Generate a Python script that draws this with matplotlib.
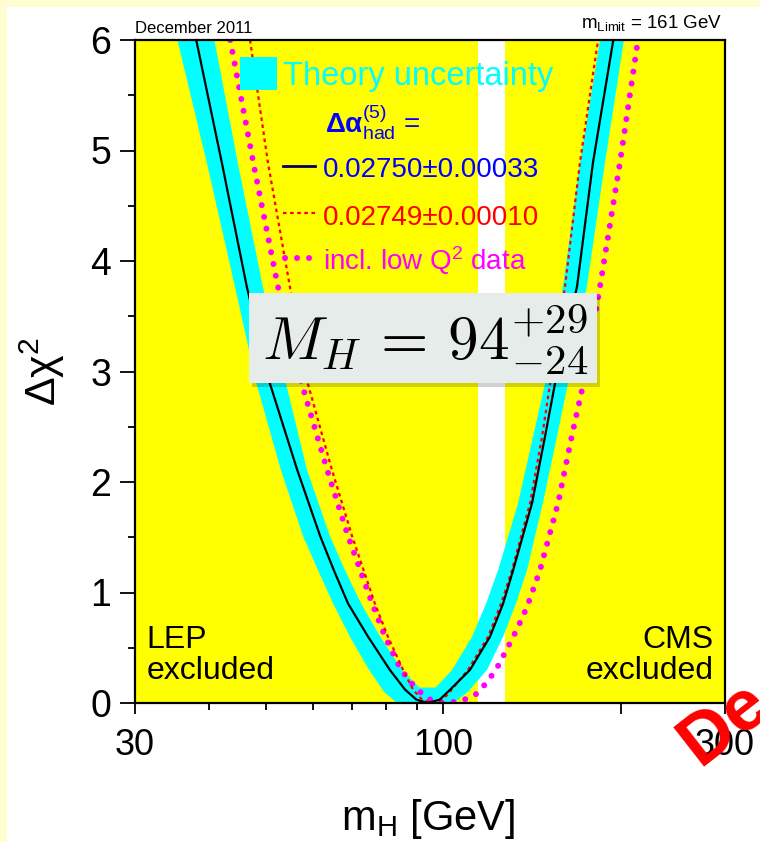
import matplotlib
matplotlib.use("Agg")
import matplotlib.pyplot as plt
from matplotlib.lines import Line2D
from matplotlib.patches import Rectangle
from matplotlib.ticker import FixedLocator, FixedFormatter, NullFormatter

# --- values ----------------------------------------------------------------
# black fit curve, Delta alpha_had = 0.02750 +- 0.00033
fit_m = [38.1, 42.1, 46.4, 50.8, 56.5, 61.8, 65.2, 68.9, 74.5, 81.1, 86.1, 90.0,
         94.0, 98.5, 102.6, 110.9, 119.9, 126.2, 131.2, 141.3, 148.6, 154.5,
         168.4, 179.2, 194.0]
fit_chi = [6.0, 4.89, 3.77, 2.89, 2.11, 1.51, 1.20, 0.90, 0.60, 0.30, 0.12, 0.03,
           0.0, 0.03, 0.12, 0.30, 0.60, 0.90, 1.20, 1.81, 2.41, 2.89,
           3.77, 4.89, 6.0]

# red dashed, Delta alpha_had = 0.02749 +- 0.00010
alt_m = [47.0, 50.4, 54.9, 58.9, 64.7, 70.0, 76.5, 80.5, 85.4, 88.8, 92.0, 95.6,
         98.5, 101.4, 110.0, 119.0, 125.2, 130.6, 140.2, 146.9, 151.6, 160.7,
         170.3, 182.8]
alt_chi = [6.0, 4.89, 3.77, 2.89, 2.11, 1.51, 0.90, 0.60, 0.30, 0.12, 0.03, 0.0,
           0.02, 0.07, 0.30, 0.60, 0.90, 1.20, 1.81, 2.41, 2.89, 3.77,
           4.89, 6.0]

# magenta dots, incl. low Q^2 data
lowq_m = [43.5, 47.6, 52.4, 57.5, 63.5, 68.9, 75.7, 79.6, 84.7, 90.2, 95.0, 100.0,
          104.5, 108.7, 113.1, 116.7, 119.9, 123.2, 128.1, 133.3, 138.5, 145.7,
          156.4, 164.9, 172.6, 184.2, 199.1, 213.6]
lowq_chi = [6.0, 4.89, 3.77, 2.89, 2.11, 1.51, 0.90, 0.60, 0.30, 0.12, 0.03, 0.0,
            0.01, 0.033, 0.072, 0.147, 0.226, 0.317, 0.489, 0.67, 0.869, 1.20,
            1.81, 2.41, 2.89, 3.77, 4.89, 6.0]

# theory uncertainty band: outer edge (left to right), inner edge (right to left)
band_outer_m = [35.4, 39.7, 44.3, 48.2, 53.0, 57.8, 61.3, 65.0, 69.4, 74.8, 79.3,
                83.4, 104.0, 110.0, 118.5, 126.2, 132.7, 138.5, 147.4, 155.7,
                162.5, 175.0, 187.8, 202.2]
band_outer_chi = [6.0, 4.89, 3.77, 2.89, 2.11, 1.51, 1.20, 0.90, 0.60, 0.30, 0.10,
                  0.0, 0.0, 0.10, 0.30, 0.60, 0.90, 1.20, 1.81, 2.41,
                  2.89, 3.77, 4.89, 6.0]
band_inner_m = [184.2, 170.3, 159.4, 148.6, 141.8, 133.8, 123.7, 118.1, 111.8,
                103.4, 97.0, 91.0, 85.1, 78.1, 72.5, 68.1, 64.2, 58.7, 54.1,
                49.4, 44.8, 40.9]
band_inner_chi = [6.0, 4.89, 3.77, 2.89, 2.41, 1.81, 1.20, 0.90, 0.60,
                  0.30, 0.14, 0.14, 0.30, 0.60, 0.90, 1.20, 1.51, 2.11, 2.89,
                  3.77, 4.89, 6.0]

# allowed window between LEP and CMS exclusions
allowed = [114.4, 127.0]

x_major = [30, 100, 200, 300]
x_major_labels = ["30", "100", "", "300"]
x_minor = [40, 50, 60, 70, 80, 90]

legend_values = ["0.02750\u00b10.00033", "0.02749\u00b10.00010"]

# --- style -----------------------------------------------------------------
plt.rcParams["font.family"] = ["Liberation Sans", "DejaVu Sans"]
plt.rcParams["mathtext.fontset"] = "custom"
plt.rcParams["mathtext.rm"] = "Liberation Sans"
plt.rcParams["mathtext.it"] = "Liberation Sans:italic"
plt.rcParams["mathtext.bf"] = "Liberation Sans:bold"

W, H = 760, 842


def fx(x):
    return x / W


def fy(y):
    return 1 - y / H


fig = plt.figure(figsize=(W / 100, H / 100), dpi=100, facecolor="#fdfdd0")
fig.patches.append(Rectangle((fx(7), 0), 1, fy(7), transform=fig.transFigure,
                             facecolor="white", edgecolor="none", zorder=-10))

ax = fig.add_axes([fx(135), fy(703), (725 - 135) / W, (703 - 40) / H])
ax.set_facecolor("#ffff00")
ax.set_xscale("log")
ax.set_xlim(30, 300)
ax.set_ylim(0, 6)

ax.axvspan(allowed[0], allowed[1], color="white", lw=0, zorder=0.5)

band_m = band_outer_m + band_inner_m
band_chi = band_outer_chi + band_inner_chi
ax.fill(band_m, band_chi, color="#00ffff", lw=0, zorder=1)

ax.plot(lowq_m, lowq_chi, color="#ff00ff", lw=4.3, linestyle=(0, (0.01, 2.0)),
        dash_capstyle="round", zorder=2)
ax.plot(alt_m, alt_chi, color="#ff0000", lw=1.6, linestyle=(0, (1.6, 1.6)),
        zorder=3)
ax.plot(fit_m, fit_chi, color="black", lw=1.6, zorder=4)

for s in ax.spines.values():
    s.set_linewidth(1.6)
    s.set_zorder(6)

ax.xaxis.set_major_locator(FixedLocator(x_major))
ax.xaxis.set_major_formatter(FixedFormatter(x_major_labels))
ax.xaxis.set_minor_locator(FixedLocator(x_minor))
ax.xaxis.set_minor_formatter(NullFormatter())
ax.yaxis.set_major_locator(FixedLocator([0, 1, 2, 3, 4, 5, 6]))
ax.yaxis.set_minor_locator(FixedLocator([0.5, 1.5, 2.5, 3.5, 4.5, 5.5]))

ax.tick_params(axis="x", which="major", direction="out", length=8, width=1.3,
               labelsize=26, pad=10, top=False)
ax.tick_params(axis="x", which="minor", direction="out", length=5, width=1.3,
               top=False)
ax.tick_params(axis="y", which="major", direction="out", length=11, width=1.3,
               labelsize=27, pad=6, right=False)
ax.tick_params(axis="y", which="minor", direction="out", length=5, width=1.3,
               right=False)

# exclusion labels
ax.text(0.02, 0.025, "LEP\nexcluded", transform=ax.transAxes, fontsize=23,
        ha="left", va="bottom", linespacing=1.05, zorder=7)
ax.text(0.98, 0.025, "CMS\nexcluded", transform=ax.transAxes, fontsize=23,
        ha="right", va="bottom", multialignment="right", linespacing=1.05,
        zorder=7)

# axis titles
fig.text(fx(42), fy(372), "\u0394\u03c7$^{2}$", rotation=90, fontsize=31,
         ha="center", va="center")
fig.text(fx(428), fy(830), "m$_{\\rm H}$ [GeV]", fontsize=30, ha="center",
         va="baseline")

# header texts
fig.text(fx(135), fy(33), "December 2011", fontsize=12, ha="left",
         va="baseline")
fig.text(fx(722), fy(28), "m$_{\\rm Limit}$ = 161 GeV", fontsize=13.5,
         ha="right", va="baseline")

# legend
fig.patches.append(Rectangle((fx(240), fy(90)), 37 / W, 33 / H,
                             transform=fig.transFigure, facecolor="#00ffff",
                             edgecolor="none", zorder=8))
fig.text(fx(283), fy(85), "Theory uncertainty", fontsize=23.5, color="#00ffff",
         ha="left", va="baseline", zorder=8)
fig.text(fx(325), fy(132), "$\\mathbf{\\Delta\\alpha}^{(5)}_{\\rm had}$ =",
         fontsize=20, color="#0000ff", ha="left", va="baseline", zorder=8)
fig.text(fx(323), fy(177), legend_values[0], fontsize=20, color="#0000ff",
         ha="left", va="baseline", zorder=8)
fig.text(fx(323), fy(225), legend_values[1], fontsize=20, color="#ff0000",
         ha="left", va="baseline", zorder=8)
fig.text(fx(323), fy(270), "incl. low Q$^{2}$ data", fontsize=20,
         color="#ff00ff", ha="left", va="baseline", zorder=8)
fig.add_artist(Line2D([fx(283), fx(315)], [fy(166), fy(166)], color="#00005a",
                      lw=2, transform=fig.transFigure, zorder=8))
fig.add_artist(Line2D([fx(283), fx(315)], [fy(213), fy(213)], color="#ff0000",
                      lw=1.6, linestyle=(0, (1.6, 1.6)),
                      transform=fig.transFigure, zorder=8))
fig.add_artist(Line2D([fx(285), fx(310)], [fy(258), fy(258)], color="#ff00ff",
                      lw=4.3, linestyle=(0, (0.01, 2.0)), dash_capstyle="round",
                      transform=fig.transFigure, zorder=8))

# fit result box
fig.patches.append(Rectangle((fx(252), fy(387)), (597 - 249) / W, 90 / H,
                             transform=fig.transFigure, facecolor="black",
                             alpha=0.18, edgecolor="none", zorder=9))
fig.patches.append(Rectangle((fx(249), fy(383)), (597 - 249) / W, 90 / H,
                             transform=fig.transFigure, facecolor="#e5ece9",
                             edgecolor="none", zorder=9))
fig.text(fx(425), fy(340), "$M_H\\,=\\,94^{+29}_{-24}$", fontsize=44,
         math_fontfamily="cm", ha="center", va="center", zorder=10)

# red stamp in the corner, cut by the right edge as in the source
fig.text(fx(699), fy(767), "De", fontsize=52, fontweight="bold", color="#ff0000",
         rotation=38, rotation_mode="anchor", ha="left", va="baseline",
         zorder=11)

fig.savefig("out.png", dpi=100, facecolor=fig.get_facecolor())
